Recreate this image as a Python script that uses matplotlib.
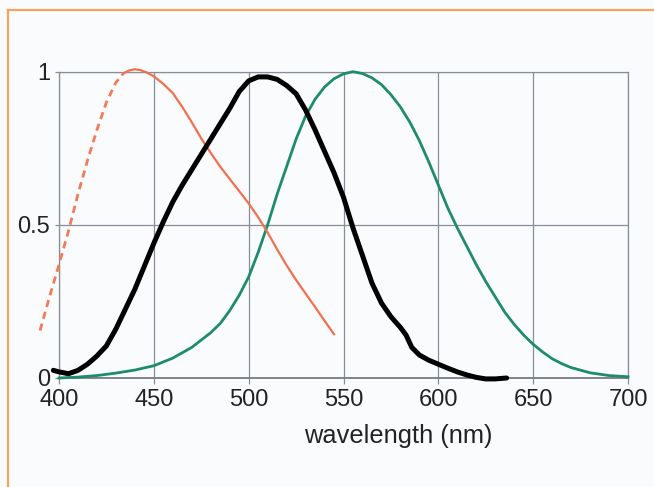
import matplotlib.pyplot as plt
from matplotlib.patches import Rectangle

plt.rcParams['font.family'] = ['Liberation Sans', 'DejaVu Sans']

## curve values
green_nm = [400, 410, 420, 430, 440, 450, 460, 470, 475, 480, 485, 490, 495, 500, 505, 510, 515, 520,
            525, 530, 535, 540, 545, 550, 555, 560, 565, 570, 575, 580, 585, 590, 595, 600, 605, 610,
            615, 620, 625, 630, 635, 640, 645, 650, 655, 660, 665, 670, 680, 690, 700]
green_val = [0.0, 0.003, 0.008, 0.016, 0.026, 0.04, 0.065, 0.1, 0.124, 0.148, 0.178, 0.22, 0.27, 0.33,
             0.41, 0.5, 0.6, 0.69, 0.78, 0.855, 0.91, 0.95, 0.977, 0.993, 1.0, 0.994, 0.98, 0.958,
             0.925, 0.885, 0.835, 0.775, 0.705, 0.63, 0.555, 0.49, 0.43, 0.37, 0.315, 0.265, 0.215,
             0.175, 0.14, 0.11, 0.085, 0.063, 0.047, 0.034, 0.017, 0.008, 0.004]

black_nm = [397, 400, 405, 410, 415, 420, 425, 430, 435, 440, 445, 450, 455, 460, 465, 470, 475, 480,
            485, 490, 495, 500, 505, 510, 515, 520, 525, 530, 535, 540, 545, 550, 555, 560, 565, 570,
            575, 580, 583, 586, 590, 595, 600, 605, 610, 615, 620, 625, 630, 636]
black_val = [0.025, 0.02, 0.014, 0.025, 0.045, 0.072, 0.105, 0.16, 0.225, 0.29, 0.365, 0.44, 0.51,
             0.575, 0.63, 0.68, 0.73, 0.78, 0.83, 0.88, 0.935, 0.97, 0.983, 0.983, 0.975, 0.955,
             0.928, 0.875, 0.81, 0.74, 0.67, 0.59, 0.49, 0.4, 0.31, 0.245, 0.2, 0.165, 0.14, 0.1,
             0.075, 0.058, 0.045, 0.032, 0.02, 0.01, 0.002, -0.003, -0.003, 0.0]

red_dash_nm = [390, 395, 400, 405, 410, 415, 420, 425, 430, 434]
red_dash_val = [0.155, 0.265, 0.37, 0.48, 0.6, 0.71, 0.81, 0.9, 0.965, 0.995]

red_nm = [434, 437, 440, 443, 446, 450, 455, 460, 465, 470, 475, 480, 485, 490, 495, 500, 505, 510,
          515, 520, 525, 530, 535, 540, 545]
red_val = [0.995, 1.004, 1.008, 1.005, 0.998, 0.985, 0.96, 0.93, 0.885, 0.835, 0.782, 0.735, 0.69,
           0.65, 0.61, 0.57, 0.525, 0.475, 0.42, 0.368, 0.32, 0.276, 0.232, 0.187, 0.143]

xticks = [400, 450, 500, 550, 600, 650, 700]
yticks = [0, 0.5, 1]
ytick_labels = ['0', '0.5', '1']

bg = '#fafbfd'
gridc = '#868e98'

fig = plt.figure(figsize=(6.54, 4.87), dpi=100, facecolor=bg)
ax = fig.add_axes([59/654, 1-378/487, 569/654, 306.3/487], facecolor=bg)

ax.plot(green_nm, green_val, color='#1e8c6c', lw=2.0, clip_on=False, zorder=3)
ax.plot(red_dash_nm, red_dash_val, color='#f47a58', lw=2.0, ls=(0, (2.6, 1.8)), clip_on=False, zorder=3)
ax.plot(red_nm, red_val, color='#f36f4d', lw=1.6, clip_on=False, zorder=3)
ax.plot(black_nm, black_val, color='black', lw=3.6, clip_on=False, zorder=4,
        solid_capstyle='round', solid_joinstyle='round')

ax.set_xlim(400, 700)
ax.set_ylim(0, 1)
ax.set_xticks(xticks)
ax.set_yticks(yticks)
ax.set_yticklabels(ytick_labels)
ax.grid(True, color=gridc, lw=0.9, zorder=1)
ax.set_axisbelow(True)
for side in ['left', 'right', 'top']:
    ax.spines[side].set_color(gridc)
    ax.spines[side].set_linewidth(0.9)
ax.spines['bottom'].set_color('#777b80')
ax.spines['bottom'].set_linewidth(1.3)
ax.tick_params(axis='x', direction='out', length=4.3, width=0.9, color=gridc, pad=3.8,
               labelsize=17, labelcolor='#222222')
ax.tick_params(axis='y', direction='out', length=3, width=0.9, color=gridc, pad=3.5,
               labelsize=17, labelcolor='#222222')

ax.set_xlabel('wavelength (nm)', fontsize=18.3, color='#222222')
ax.xaxis.set_label_coords((398-59)/569, (378-443)/306.3)
ax.xaxis.label.set_va('baseline')

# orange frame round the figure
fig.patches.append(Rectangle((7.5/654, -0.5), 2, 0.5 + 1 - 10/487, transform=fig.transFigure,
                             fill=False, edgecolor='#f6a35c', lw=1.6))

plt.savefig('out.png', dpi=100, facecolor=bg)
